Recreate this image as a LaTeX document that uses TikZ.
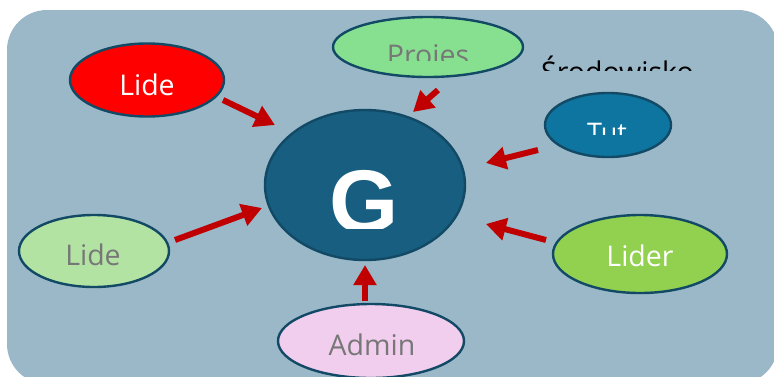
\documentclass[tikz,border=0pt]{standalone}
\usepackage{fontspec}
\setmainfont{Open Sans}
\newfontfamily\gfont{Liberation Sans}
\usetikzlibrary{shapes.geometric,arrows.meta}
\definecolor{bgc}{HTML}{9AB8C8}
\definecolor{edgec}{HTML}{124A66}
\definecolor{gfill}{HTML}{175E80}
\definecolor{redfill}{HTML}{FF0000}
\definecolor{projfill}{HTML}{86E090}
\definecolor{tutfill}{HTML}{0E75A0}
\definecolor{lidefill}{HTML}{B3E3A3}
\definecolor{liderfill}{HTML}{92D050}
\definecolor{adminfill}{HTML}{F2CEEE}
\definecolor{graytext}{HTML}{777777}
\definecolor{arrc}{HTML}{C00000}
\begin{document}
\begin{tikzpicture}[x=1pt,y=-1pt,
  bub/.style n args={3}{ellipse, draw=edgec, line width=2.4pt, inner sep=0pt, fill=#1, minimum width=#2, minimum height=#3},
  lbl/.style={anchor=base, inner sep=0pt, font=\fontsize{28.5}{30}\selectfont},
  arr/.style={draw=arrc, line width=6pt, -{Triangle[length=20pt,width=22pt]}}]
\useasboundingbox (0,0) rectangle (774,376);
\fill[white] (0,0) rectangle (774,376);
\fill[bgc, rounded corners=40pt] (7,10) rectangle (778,384);

% bubbles
\node[bub={gfill}{200pt}{150pt}] (g) at (365,185) {};
\node[bub={redfill}{154pt}{73pt}] (lideA) at (147,80) {};
\node[bub={projfill}{190pt}{60pt}] (proj) at (428,47) {};
\node[bub={tutfill}{126pt}{64pt}] (tut) at (608,125) {};
\node[bub={lidefill}{150pt}{72pt}] (lideB) at (94,251) {};
\node[bub={liderfill}{174pt}{78pt}] (lider) at (640,254) {};
\node[bub={adminfill}{186pt}{74pt}] (admin) at (371,341) {};

% labels
\node[lbl, text=white] (tLideA) at (147,95) {Lide};
\node[lbl, text=graytext] (tLideB) at (93,265) {Lide};
\node[lbl, text=white] (tLider) at (640,266) {Lider};
\node[lbl, text=graytext] (tAdmin) at (372,355) {Admin};
\begin{scope}
  \clip (300,0) rectangle (530,60);
  \node[lbl, text=graytext] (tProj) at (428,65) {Proies};
\end{scope}
\begin{scope}
  \clip (530,0) rectangle (774,70);
  \node[lbl, anchor=base west, text=black] (tEnv) at (541,82) {Środowisko};
\end{scope}
\begin{scope}
  \clip (550,90) rectangle (670,134);
  \node[lbl, text=white, font=\fontsize{27}{30}\selectfont] (tTut) at (607,142) {Tut};
\end{scope}
\begin{scope}
  \clip (280,100) rectangle (450,228);
  \node[anchor=base, inner sep=0pt, text=white, font=\gfont\bfseries\fontsize{89}{90}\selectfont] (tG) at (364,232) {G};
\end{scope}

% arrow end points
\coordinate (a1s) at (223,100); \coordinate (a1e) at (275,125);
\coordinate (a2s) at (438,90);  \coordinate (a2e) at (413,112);
\coordinate (a3s) at (538,150); \coordinate (a3e) at (486,163);
\coordinate (a4s) at (175,240); \coordinate (a4e) at (262,208);
\coordinate (a5s) at (546,240); \coordinate (a5e) at (486,224);
\coordinate (a6s) at (365,301); \coordinate (a6e) at (365,265);

\draw[arr] (a1s) -- (a1e);
\draw[arr] (a2s) -- (a2e);
\draw[arr] (a3s) -- (a3e);
\draw[arr] (a4s) -- (a4e);
\draw[arr] (a5s) -- (a5e);
\draw[arr] (a6s) -- (a6e);
\end{tikzpicture}
\end{document}
